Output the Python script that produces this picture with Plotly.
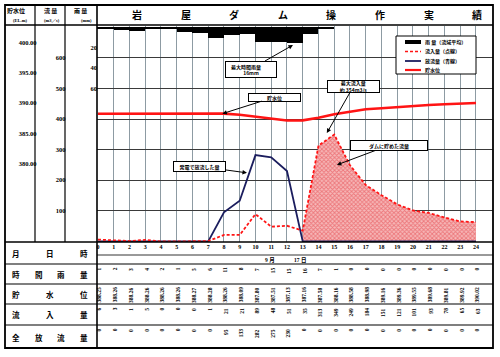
import plotly.graph_objects as go

# ---------------- data ----------------
HOURS = list(range(25))
RAIN = [1, 2, 3, 4, 2, 1, 5, 6, 11, 8, 7, 15, 15, 16, 7, 1, 0, 0, 0, 0, 0, 0, 0, 0, 0]
LEVEL = [388.25, 388.26, 388.26, 388.26, 388.26, 388.26, 388.27, 388.28, 388.26, 388.09,
         387.80, 387.51, 387.13, 387.16, 387.58, 388.16, 388.58, 388.98, 389.16, 389.36,
         389.55, 389.68, 389.81, 389.92, 390.02]
INFLOW = [6, 3, 1, 5, 0, 0, 0, 1, 21, 21, 89, 48, 51, 35, 313, 349, 249, 184, 151, 121,
          101, 93, 78, 65, 63]
OUTFLOW = [0, 0, 0, 0, 0, 0, 0, 0, 95, 133, 282, 275, 230, 0, 0, 0, 0, 0, 0, 0,
           0, 0, 0, 0, 0]
MONTH, DAY = 9, 17
LEVEL_TICKS = [380, 385, 390, 395, 400]
FLOW_TICKS = [100, 200, 300, 400, 500, 600]
RAIN_TICKS = [20, 40, 60]
TITLE = "岩屋ダム操作実績"
ROW_LABELS = ["月日時", "時間雨量", "貯水位", "流入量", "全放流量"]
LEGEND_LABELS = ["雨 量（流域平均）", "流入量（点線）", "放流量（青線）", "貯水位"]
PEAK_INFLOW = 354
MAX_RAIN = 16
STORE_FROM = 13  # hour from which inflow was stored

W, H = 500, 357
def px(x):
    return x / W
def py(y):
    return 1 - y / H

JP = "Noto Sans CJK JP"
NUM = "Liberation Serif, Noto Sans CJK JP"
RED = "#ff1414"
NAVY = "#1b1d5e"

fig = go.Figure()

# rain bars (hang from the top)
fig.add_trace(go.Bar(x=HOURS, y=RAIN, yaxis="y3", width=1, offset=-1,
                     marker=dict(color="black", line=dict(width=0))))

# stored volume (hatched) between outflow and inflow
fig.add_trace(go.Scatter(x=HOURS[STORE_FROM:], y=OUTFLOW[STORE_FROM:], mode="lines",
                         line=dict(width=0, color=NAVY), yaxis="y", hoverinfo="skip"))
fig.add_trace(go.Scatter(x=HOURS[STORE_FROM:], y=INFLOW[STORE_FROM:], mode="lines",
                         line=dict(width=0, color=RED), fill="tonexty",
                         fillcolor="rgba(0,0,0,0)",
                         fillpattern=dict(shape="x", fgcolor="#e3343c", bgcolor="#f6b9b9",
                                          size=3, solidity=0.5),
                         yaxis="y", hoverinfo="skip"))

# outflow
fig.add_trace(go.Scatter(x=HOURS, y=OUTFLOW, mode="lines",
                         line=dict(color=NAVY, width=1.8), yaxis="y"))
# inflow
fig.add_trace(go.Scatter(x=HOURS, y=INFLOW, mode="lines",
                         line=dict(color=RED, width=1.8, dash="3px,2px"), yaxis="y"))
# water level
fig.add_trace(go.Scatter(x=HOURS, y=LEVEL, mode="lines",
                         line=dict(color=RED, width=2.6), yaxis="y2"))

dom_y = [py(242), py(26)]
fig.update_layout(
    width=W, height=H, margin=dict(l=0, r=0, t=0, b=0),
    paper_bgcolor="white", plot_bgcolor="white", showlegend=False,
    bargap=0,
    xaxis=dict(domain=[px(97), px(493)], range=[-0.06, 25.08], tickvals=HOURS,
               showgrid=True, gridcolor="#8d9ba3", gridwidth=1, zeroline=False,
               showline=False, ticks="", anchor="y",
               tickfont=dict(family=NUM, size=6, color="black", weight="bold")),
    yaxis=dict(domain=dom_y, range=[-2, 704], tickvals=FLOW_TICKS, anchor="free",
               position=px(65.5), showgrid=True, gridcolor="#3a3a3a", gridwidth=1,
               zeroline=False, showline=False, ticks="",
               tickfont=dict(family=NUM, size=6.5, color="black", weight="bold")),
    yaxis2=dict(range=[367.15, 402.68], tickvals=LEVEL_TICKS, tickformat=".2f",
                overlaying="y", anchor="free", position=px(36.5), showgrid=False,
                zeroline=False, showline=False, ticks="",
                tickfont=dict(family=NUM, size=6.5, color="black", weight="bold")),
    yaxis3=dict(range=[209, -1], tickvals=RAIN_TICKS, overlaying="y", anchor="free",
                position=px(97), showgrid=False, zeroline=False, showline=False,
                ticks="",
                tickfont=dict(family=NUM, size=6.5, color="black", weight="bold")),
)

shapes = []
def hline(y, x0, x1, w=1):
    shapes.append(dict(type="line", xref="paper", yref="paper", x0=px(x0), x1=px(x1),
                       y0=py(y), y1=py(y), line=dict(color="black", width=w)))
def vline(x, y0, y1, w=1):
    shapes.append(dict(type="line", xref="paper", yref="paper", x0=px(x), x1=px(x),
                       y0=py(y0), y1=py(y1), line=dict(color="black", width=w)))

# frame & table
shapes.append(dict(type="rect", xref="paper", yref="paper", x0=px(5), x1=px(493),
                   y0=py(348), y1=py(5), line=dict(color="black", width=1.8)))
hline(25, 5, 493, 1.4)
vline(35, 5, 242, 1.2)
vline(65, 5, 242, 1.2)
vline(97, 5, 348, 1.6)
hline(242, 5, 493, 1.6)
for yy in [264, 284, 304, 325]:
    hline(yy, 5, 493, 1.2)
hline(255, 97, 493, 0.8)

# legend box
shapes.append(dict(type="rect", xref="paper", yref="paper", x0=px(396), x1=px(476),
                   y0=py(74), y1=py(36), line=dict(color="black", width=1),
                   fillcolor="white", layer="above"))
leg_styles = [dict(color="black", width=4), dict(color=RED, width=1.6, dash="3px,2px"),
              dict(color=NAVY, width=1.8), dict(color=RED, width=2.2)]
leg_y = [42, 51.5, 61, 70]
for st, yy in zip(leg_styles, leg_y):
    shapes.append(dict(type="line", xref="paper", yref="paper", x0=px(405), x1=px(421),
                       y0=py(yy), y1=py(yy), line=st, layer="above"))

fig.update_layout(shapes=shapes)

ann = []
def text(x, y, s, size=7, family=JP, bold=True, xanchor="center", yanchor="middle",
         angle=0, xref="paper", color="black", xshift=0):
    ann.append(dict(x=x if xref != "paper" else px(x), y=py(y), xref=xref, yref="paper",
                    text=s, showarrow=False, xanchor=xanchor, yanchor=yanchor,
                    textangle=angle, xshift=xshift,
                    font=dict(family=family, size=size, color=color,
                              weight="bold" if bold else "normal")))

# header
for i, ch in enumerate(TITLE):
    text(137 + i * 48.6, 15, ch, size=10)
text(16, 10.5, "貯水位", size=6)
text(20, 20, "(EL.m)", size=4.5, family=NUM)
text(50, 10.5, "流 量", size=6)
text(52, 20, "(m3／s)", size=4.5, family=NUM)
text(80, 10.5, "雨 量", size=6)
text(86, 20, "(mm)", size=4.5, family=NUM)

# row labels
row_y = [253.5, 274, 294, 314.5, 337]
for lab, yy in zip(ROW_LABELS, row_y):
    n = len(lab)
    for i, ch in enumerate(lab):
        xx = 16 + (84 - 16) * i / (n - 1)
        text(xx, yy, ch, size=7.5)

# date
text(270, 260, f"{MONTH} 月", size=5.5, family=NUM)
text(300, 260, f"{DAY} 日", size=5.5, family=NUM)

# table values (rotated)
rows = [(RAIN, 265.5, "{:d}"), (LEVEL, 285.5, "{:.2f}"), (INFLOW, 305.5, "{:d}"),
        (OUTFLOW, 326.5, "{:d}")]
for vals, ytop, fmt in rows:
    for h, v in zip(HOURS, vals):
        text(h, ytop, fmt.format(v), size=5.5, family=NUM, xref="x",
             yanchor="top", angle=-90, xshift=1.5)

# legend labels
for lab, yy in zip(LEGEND_LABELS, leg_y):
    text(423, yy, lab, size=5, xanchor="left")

# callouts
def callout(s, xt, yt, yref, ax, ay, w, h, size=5, align="center"):
    ann.append(dict(x=xt, y=yt, xref="x", yref=yref, text=s, showarrow=True,
                    ax=ax, ay=ay, arrowhead=2, arrowsize=0.9, arrowwidth=1,
                    arrowcolor="black", bordercolor="black", borderwidth=1,
                    bgcolor="white", width=w, height=h, align=align, borderpad=0,
                    font=dict(family=JP, size=size, color="black", weight="bold")))

callout(f"最大時間雨量　　<br>{MAX_RAIN}mm", 12.38, MAX_RAIN + 1.5, "y3", -42, 24, 50, 15)
callout("貯水位", 7.9, LEVEL[8], "y2", 52, -16.5, 51, 7)
callout(f"最大流入量<br>約 {PEAK_INFLOW}m3/s", 14.53, PEAK_INFLOW, "y", 26.5, -46.5, 51, 11)
callout("ダムに貯めた流量", 15.17, 250, "y", 52, -19.5, 76, 9)
callout("発電で放流した量", 9.46, 224, "y", -47.5, -6.5, 51, 9)

fig.update_layout(annotations=ann)
fig.write_html("out.html", post_script="document.body.style.margin='0';",
               config={"displayModeBar": False})
